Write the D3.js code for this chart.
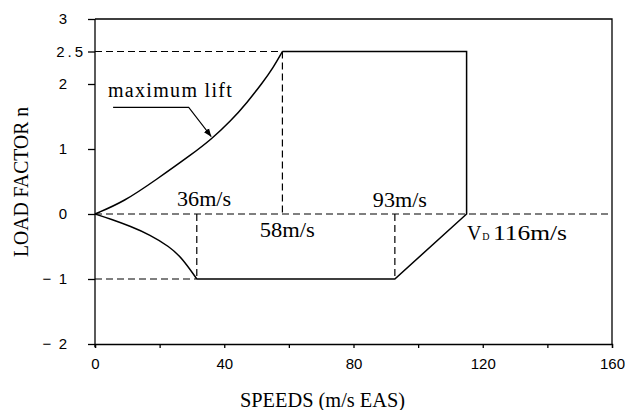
<!DOCTYPE html>
<html>
<head>
<meta charset="utf-8">
<script src="https://cdn.jsdelivr.net/npm/d3@7"></script>
<style>
  body { margin:0; background:#fff; }
  svg { display:block; }
  .axis path, .axis line { stroke:#000; stroke-width:1.3; }
  .axis text { font-family:"Liberation Sans", Arial, sans-serif; font-size:15px; fill:#000; }
</style>
</head>
<body>
<div id="plot"></div>
<script>
// values (speed in m/s EAS, load factor n)
var posStallV = [0, 9, 19, 30, 36, 42, 47, 52, 55, 58];
var posStallN = [0, 0.19, 0.53, 0.92, 1.15, 1.43, 1.71, 2.03, 2.24, 2.5];
var negStallV = [0, 5, 11, 17, 23, 27, 31.5];
var negStallN = [0, -0.08, -0.19, -0.32, -0.5, -0.68, -1];
// rest of the envelope after the negative stall curve
var edgeV = [31.5, 92.8, 115, 115, 58];
var edgeN = [-1, -1, 0, 2.5, 2.5];
var xTicks = [0, 20, 40, 60, 80, 100, 120, 140, 160];
var xLabels = [0, 40, 80, 120, 160];
var yTicks = [3, 2.5, 2, 1, 0, -1, -2];
var speedLabels = ['36m/s', '58m/s', '93m/s', '116m/s'];

var W = 625, H = 410;
var margin = {t:19, r:13, b:66, l:95};

var svg = d3.select('#plot').append('svg')
  .attr('width', W).attr('height', H);

var x = d3.scaleLinear().domain([0,160]).range([margin.l, W-margin.r]);
var y = d3.scaleLinear().domain([-2,3]).range([H-margin.b, margin.t]);

// arrow head for the "maximum lift" pointer
svg.append('defs').append('marker')
  .attr('id','arrow').attr('viewBox','0 0 10 10')
  .attr('refX',10).attr('refY',5)
  .attr('markerWidth',8).attr('markerHeight',8)
  .attr('markerUnits','userSpaceOnUse')
  .attr('orient','auto')
  .append('path').attr('d','M0,1L10,5L0,9Z').attr('fill','#000');

// axes
svg.append('g').attr('class','axis')
  .attr('transform','translate(0,'+y(-2)+')')
  .call(d3.axisBottom(x).tickValues(xTicks).tickSize(4).tickPadding(10)
    .tickFormat(function(d){ return xLabels.indexOf(d) >= 0 ? d : ''; }));

var yAxis = svg.append('g').attr('class','axis')
  .attr('transform','translate('+x(0)+',0)')
  .call(d3.axisLeft(y).tickValues(yTicks).tickSize(7)
    .tickFormat(function(d){ return d < 0 ? '\u2212\u2002' + Math.abs(d) : d; }));
yAxis.selectAll('.tick text')
  .attr('x', function(d){ return d === 2.5 ? -9 : -28; })
  .style('letter-spacing', function(d){ return d === 2.5 ? '3px' : null; });
yAxis.select('.domain').remove();
svg.append('line')
  .attr('x1', x(0)).attr('x2', x(0))
  .attr('y1', y(3)).attr('y2', y(-2)+3)
  .attr('stroke','#000').attr('stroke-width',1.3);

// top and right frame
svg.append('path')
  .attr('d','M'+x(0)+','+y(3)+'H'+x(160)+'V'+y(-2))
  .attr('fill','none').attr('stroke','#000').attr('stroke-width',1.3);

// dashed guide lines
var guides = [
  [[0,0],[160,0]],
  [[0,2.5],[58,2.5]],
  [[0,-1],[31.5,-1]],
  [[58,2.5],[58,0]],
  [[31.5,0],[31.5,-1]],
  [[92.8,0],[92.8,-1]]
];
svg.selectAll('.guide').data(guides).enter().append('line')
  .attr('class','guide')
  .attr('x1', function(d){ return x(d[0][0]); })
  .attr('y1', function(d){ return y(d[0][1]); })
  .attr('x2', function(d){ return x(d[1][0]); })
  .attr('y2', function(d){ return y(d[1][1]); })
  .attr('stroke','#000').attr('stroke-width',1.2)
  .attr('stroke-dasharray','7,4');

// flight envelope
var curve = d3.line()
  .x(function(d){ return x(d[0]); })
  .y(function(d){ return y(d[1]); })
  .curve(d3.curveBasis);
var straight = d3.line()
  .x(function(d){ return x(d[0]); })
  .y(function(d){ return y(d[1]); });

svg.append('path')
  .attr('d', curve(d3.zip(posStallV, posStallN)))
  .attr('fill','none').attr('stroke','#000').attr('stroke-width',1.5);
svg.append('path')
  .attr('d', curve(d3.zip(negStallV, negStallN)))
  .attr('fill','none').attr('stroke','#000').attr('stroke-width',1.5);
svg.append('path')
  .attr('d', straight(d3.zip(edgeV, edgeN)))
  .attr('fill','none').attr('stroke','#000').attr('stroke-width',1.5);

// maximum lift pointer
svg.append('path')
  .attr('d', straight([[5.6,1.64],[29,1.64],[36,1.19]]))
  .attr('fill','none').attr('stroke','#000').attr('stroke-width',1.1)
  .attr('marker-end','url(#arrow)');

svg.append('text')
  .attr('x', x(4)).attr('y', y(1.8))
  .attr('textLength',124).attr('lengthAdjust','spacing')
  .style('font-family','"Liberation Serif", "Times New Roman", serif')
  .style('font-size','20px')
  .text('maximum lift');

// speed labels
var labelPos = [[25.4,0.13,54],[51,-0.35,55],[86,0.11,54]];
labelPos.forEach(function(p, i){
  svg.append('text')
    .attr('x', x(p[0])).attr('y', y(p[1]))
    .attr('textLength',p[2]).attr('lengthAdjust','spacingAndGlyphs')
    .style('font-family','"Liberation Serif", "Times New Roman", serif')
    .style('font-size','20px')
    .text(speedLabels[i]);
});

var vd = svg.append('text')
  .attr('x', x(115.1)).attr('y', y(-0.4))
  .style('font-family','"Liberation Serif", "Times New Roman", serif')
  .style('font-size','20px');
vd.append('tspan').text('V');
vd.append('tspan').attr('dx',1).style('font-size','10px').text('D');
vd.append('tspan').attr('x', x(115.1)+26).attr('textLength',74)
  .attr('lengthAdjust','spacingAndGlyphs').text(speedLabels[3]);

// axis titles
svg.append('text')
  .attr('x',240).attr('y',407)
  .attr('textLength',165).attr('lengthAdjust','spacingAndGlyphs')
  .style('font-family','"Liberation Serif", "Times New Roman", serif')
  .style('font-size','20px')
  .text('SPEEDS (m/s EAS)');

svg.append('text')
  .attr('transform','translate(28,182) rotate(-90)')
  .attr('text-anchor','middle')
  .attr('textLength',150).attr('lengthAdjust','spacingAndGlyphs')
  .style('font-family','"Liberation Serif", "Times New Roman", serif')
  .style('font-size','20px')
  .text('LOAD FACTOR n');
</script>
</body>
</html>
